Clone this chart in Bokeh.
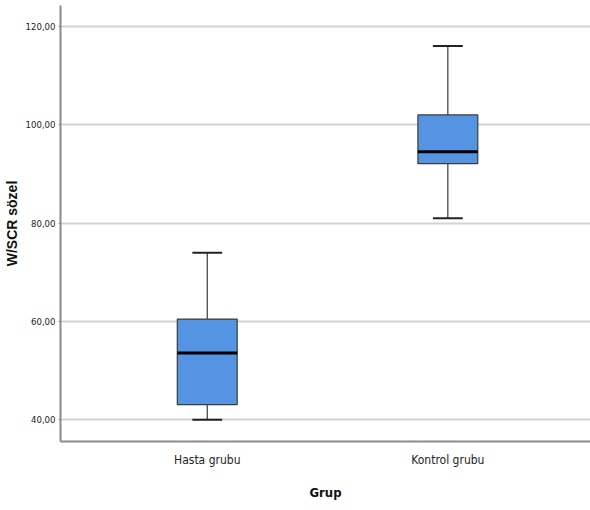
from bokeh.plotting import figure
from bokeh.models import ColumnDataSource, FixedTicker, Range1d
from bokeh.embed import file_html
from bokeh.resources import INLINE

groups = ["Hasta grubu", "Kontrol grubu"]
xpos = [1, 2]
w_min = [40.0, 81.0]
q1 = [43.1, 92.1]
median = [53.6, 94.5]
q3 = [60.5, 102.0]
w_max = [74.0, 116.0]
y_ticks = [40, 60, 80, 100, 120]
y_tick_labels = ["40,00", "60,00", "80,00", "100,00", "120,00"]

box_w = 0.249
cap_w = 0.124
NARROW = "'DejaVu Sans Condensed', 'Liberation Sans', sans-serif"

src = ColumnDataSource(dict(
    x=xpos, lo=w_min, q1=q1, med=median, q3=q3, hi=w_max,
    xl=[x - box_w / 2 for x in xpos], xr=[x + box_w / 2 for x in xpos],
    cl=[x - cap_w / 2 for x in xpos], cr=[x + cap_w / 2 for x in xpos],
))

p = figure(width=590, height=502, output_backend="svg", toolbar_location=None,
           x_range=Range1d(0.39, 2.593), y_range=Range1d(35.6, 124.25),
           min_border_left=59, min_border_right=0, min_border_top=5, min_border_bottom=59)
p.outline_line_color = None
p.background_fill_color = "white"

# whiskers
p.segment("x", "q3", "x", "hi", source=src, line_color="#3a3a3a", line_width=1.2)
p.segment("x", "lo", "x", "q1", source=src, line_color="#3a3a3a", line_width=1.2)
p.segment("cl", "hi", "cr", "hi", source=src, line_color="#222222", line_width=2)
p.segment("cl", "lo", "cr", "lo", source=src, line_color="#222222", line_width=2)
# boxes
p.quad(left="xl", right="xr", bottom="q1", top="q3", source=src,
       fill_color="#5594E3", line_color="#3c3c3c", line_width=1.2)
p.segment("xl", "med", "xr", "med", source=src, line_color="#000000", line_width=3)

# axes
p.yaxis.ticker = FixedTicker(ticks=y_ticks)
p.yaxis.major_label_overrides = {t: l for t, l in zip(y_ticks, y_tick_labels)}
p.yaxis.major_label_text_font = NARROW
p.yaxis.major_label_text_font_size = "9.5px"
p.yaxis.major_label_text_color = "#222222"
p.yaxis.axis_line_color = "#8a8a8a"
p.yaxis.axis_line_width = 2
p.yaxis.major_tick_line_color = "#8a8a8a"
p.yaxis.major_tick_out = 2
p.yaxis.major_tick_in = 0
p.yaxis.minor_tick_line_color = None
p.yaxis.major_label_standoff = 3
p.yaxis.axis_label = "W/SCR sözel"
p.yaxis.axis_label_text_font = "Liberation Sans"
p.yaxis.axis_label_text_font_style = "bold"
p.yaxis.axis_label_text_font_size = "14px"
p.yaxis.axis_label_text_color = "#111111"
p.yaxis.axis_label_standoff = 3

p.xaxis.ticker = FixedTicker(ticks=xpos)
p.xaxis.major_label_overrides = {x: g for x, g in zip(xpos, groups)}
p.xaxis.major_label_text_font = NARROW
p.xaxis.major_label_text_font_size = "12px"
p.xaxis.major_label_text_color = "#222222"
p.xaxis.axis_line_color = "#8a8a8a"
p.xaxis.axis_line_width = 2
p.xaxis.major_tick_line_color = None
p.xaxis.minor_tick_line_color = None
p.xaxis.major_label_standoff = 5
p.xaxis.axis_label = "Grup"
p.xaxis.axis_label_text_font = NARROW
p.xaxis.axis_label_text_font_style = "bold"
p.xaxis.axis_label_text_font_size = "13px"
p.xaxis.axis_label_text_color = "#111111"
p.xaxis.axis_label_standoff = 15

p.xgrid.grid_line_color = None
p.ygrid.ticker = FixedTicker(ticks=y_ticks)
p.ygrid.grid_line_color = "#d3d3d3"
p.ygrid.grid_line_width = 2

open("out.html", "w").write(file_html(p, INLINE))
